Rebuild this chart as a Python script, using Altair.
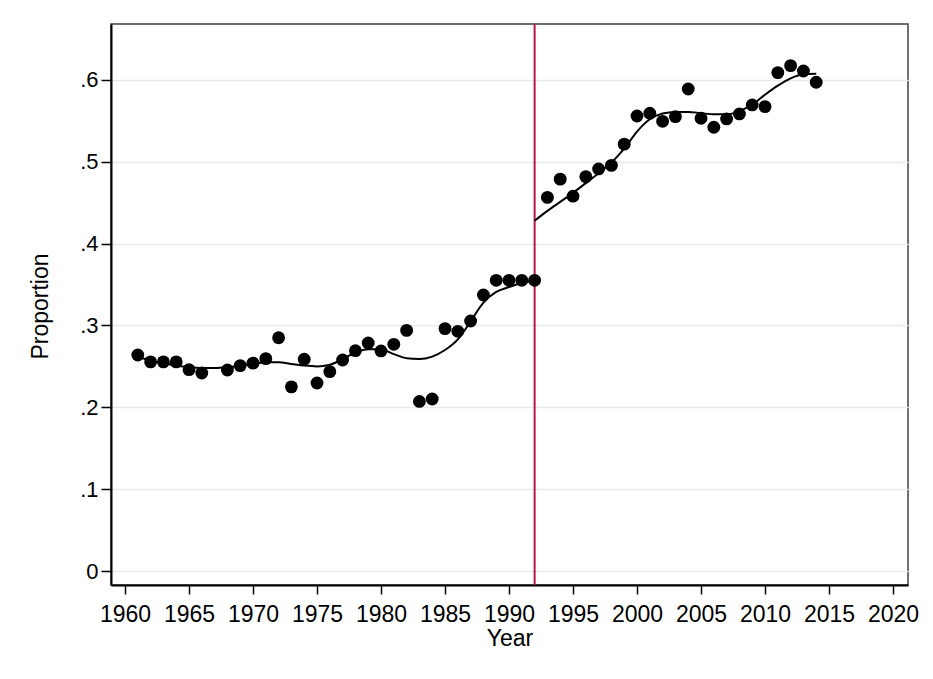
import altair as alt
import pandas as pd

# Observed proportions (1967 missing)
years = [1961, 1962, 1963, 1964, 1965, 1966,
         1968, 1969, 1970, 1971, 1972, 1973, 1974, 1975, 1976, 1977, 1978, 1979,
         1980, 1981, 1982, 1983, 1984, 1985, 1986, 1987, 1988, 1989, 1990, 1991,
         1992, 1993, 1994, 1995, 1996, 1997, 1998, 1999, 2000, 2001, 2002, 2003,
         2004, 2005, 2006, 2007, 2008, 2009, 2010, 2011, 2012, 2013, 2014]
values = [0.264, 0.2555, 0.2555, 0.2555, 0.246, 0.242,
          0.2456, 0.251, 0.254, 0.2595, 0.285, 0.225, 0.2587, 0.2297, 0.2436, 0.2578, 0.2692, 0.2786,
          0.2689, 0.2770, 0.294, 0.2072, 0.2102, 0.2962, 0.2929, 0.3055, 0.3373, 0.3552, 0.3552, 0.3552,
          0.3552, 0.4565, 0.4788, 0.4580, 0.4819, 0.4913, 0.4957, 0.5216, 0.556, 0.5593, 0.5495, 0.5552,
          0.589, 0.5532, 0.5422, 0.5524, 0.5585, 0.5695, 0.5674, 0.609, 0.6175, 0.611, 0.5972]

# Smoothed fit, before and after the break
curve_pre_years = list(range(1961, 1993))
curve_pre = [0.262, 0.257, 0.254, 0.251, 0.249, 0.248, 0.248, 0.249, 0.251, 0.253,
             0.255, 0.255, 0.253, 0.251, 0.250, 0.252, 0.259, 0.267, 0.271, 0.271,
             0.265, 0.260, 0.259, 0.262, 0.270, 0.283, 0.305, 0.328, 0.341, 0.347,
             0.352, 0.355]
curve_post_years = list(range(1992, 2015))
curve_post = [0.428, 0.440, 0.451, 0.462, 0.474, 0.486, 0.499, 0.516, 0.537, 0.552,
              0.559, 0.561, 0.561, 0.5595, 0.558, 0.558, 0.562, 0.570, 0.582, 0.593,
              0.602, 0.607, 0.6075]

break_year = [1992]
x_ticks = list(range(1960, 2021, 5))
y_ticks = [0, 0.1, 0.2, 0.3, 0.4, 0.5, 0.6]

pts = pd.DataFrame({"Year": years, "Proportion": values})
curve = pd.DataFrame({
    "Year": curve_pre_years + curve_post_years,
    "Fit": curve_pre + curve_post,
    "seg": ["pre"] * len(curve_pre_years) + ["post"] * len(curve_post_years),
})
brk = pd.DataFrame({"Year": break_year})

FONT = "Liberation Sans"
xscale = alt.Scale(domain=[1958.906, 2021.17], nice=False, zero=False)
yscale = alt.Scale(domain=[-0.0171, 0.6684], nice=False, zero=False)

xaxis = alt.Axis(values=x_ticks, format="d", title="Year", grid=False,
                 labelFontSize=23, titleFontSize=23, labelFont=FONT, titleFont=FONT,
                 labelColor="#000", titleColor="#000", titleFontWeight="normal",
                 tickSize=9, tickWidth=1.5, tickColor="#000", labelPadding=9,
                 domainColor="#000", domainWidth=2, labelFlush=False,
                 titleBaseline="alphabetic", titleY=60)
yaxis = alt.Axis(values=y_ticks, title="Proportion", grid=True,
                 gridColor="#e6ebeb", gridWidth=1.5,
                 labelExpr="datum.value == 0 ? '0' : replace(format(datum.value, '.1f'), '0.', '.')",
                 labelFontSize=22, titleFontSize=23, labelFont=FONT, titleFont=FONT,
                 labelColor="#000", titleColor="#000", titleFontWeight="normal",
                 tickSize=10, tickWidth=1.5, tickColor="#000", labelPadding=3,
                 domainColor="#000", domainWidth=2, labelFlush=False,
                 titleBaseline="middle", titleX=-71, titleY=282, titleAngle=-90)

rule = alt.Chart(brk).mark_rule(color="#b5174b", strokeWidth=2).encode(
    x=alt.X("Year:Q", scale=xscale, axis=xaxis)
)
line = alt.Chart(curve).mark_line(color="#000", strokeWidth=2, interpolate="monotone").encode(
    x=alt.X("Year:Q", scale=xscale, axis=xaxis),
    y=alt.Y("Fit:Q", scale=yscale, axis=yaxis),
    detail="seg:N",
)
dots = alt.Chart(pts).mark_circle(color="#000", opacity=1, size=165).encode(
    x=alt.X("Year:Q", scale=xscale, axis=xaxis),
    y=alt.Y("Proportion:Q", scale=yscale, axis=yaxis),
)

chart = alt.layer(rule, line, dots).properties(
    width=797, height=561,
    autosize=alt.AutoSizeParams(type="none"),
    padding={"left": 103, "top": 16, "right": 17, "bottom": 85},
    background="white",
).configure_view(stroke="#404040", strokeWidth=1.5)

chart.save("out.html", embed_options={"renderer": "svg", "actions": False})
